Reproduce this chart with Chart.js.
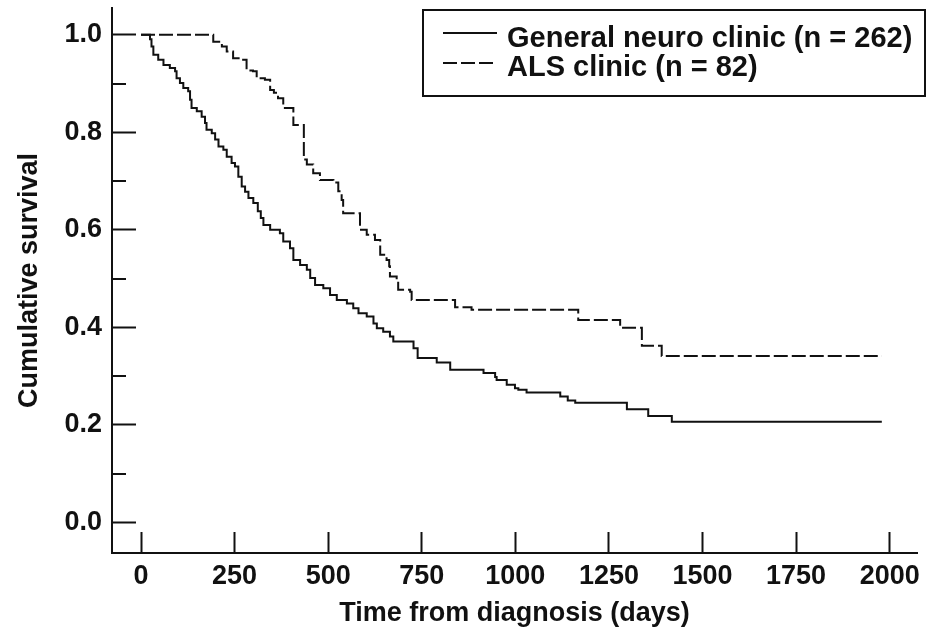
<!DOCTYPE html>
<html><head><meta charset="utf-8">
<script src="https://cdn.jsdelivr.net/npm/chart.js@4.4.1/dist/chart.umd.min.js"></script>
<style>html,body{margin:0;padding:0;background:#fff;}#wrap{width:932px;height:637px;position:relative;}</style>
</head><body><div id="wrap"><canvas id="c"></canvas></div>
<script>
const seriesLabels = ['General neuro clinic (n = 262)', 'ALS clinic (n = 82)'];
const generalDays = [0,24,28,33,46,60,77,91,95,104,113,126,131,135,149,162,171,175,189,198,207,220,229,242,251,260,269,278,287,300,312,320,327,345,371,380,398,407,425,443,452,465,487,505,523,550,567,581,603,621,630,647,665,674,728,739,790,826,915,946,950,977,999,1008,1030,1120,1140,1160,1298,1355,1418,1979];
const generalSurvival = [1.0,0.991,0.976,0.959,0.949,0.938,0.932,0.925,0.911,0.901,0.891,0.884,0.867,0.850,0.843,0.832,0.819,0.805,0.798,0.785,0.771,0.764,0.750,0.737,0.730,0.709,0.689,0.678,0.665,0.655,0.638,0.624,0.610,0.600,0.593,0.576,0.562,0.538,0.528,0.518,0.501,0.487,0.480,0.466,0.456,0.449,0.439,0.429,0.422,0.408,0.398,0.391,0.381,0.371,0.357,0.337,0.328,0.313,0.306,0.298,0.292,0.282,0.275,0.272,0.266,0.258,0.250,0.245,0.232,0.218,0.206,0.206];
const alsDays = [0,193,216,229,246,270,282,299,309,331,345,355,366,380,407,435,443,460,478,514,527,536,540,585,603,625,639,656,663,665,683,687,719,723,839,883,1168,1280,1338,1391,1979];
const alsSurvival = [1.0,0.986,0.976,0.966,0.952,0.949,0.927,0.925,0.911,0.908,0.887,0.881,0.870,0.850,0.815,0.744,0.734,0.716,0.702,0.697,0.679,0.661,0.634,0.600,0.590,0.579,0.549,0.538,0.525,0.504,0.494,0.477,0.473,0.456,0.441,0.436,0.415,0.399,0.362,0.341,0.341];
const xTickValues = [0,250,500,750,1000,1250,1500,1750,2000];
const yTickValues = [0,0.2,0.4,0.6,0.8,1.0];
const yMinorTickValues = [0.1,0.3,0.5,0.7,0.9];
const xAxisTitle = 'Time from diagnosis (days)';
const yAxisTitle = 'Cumulative survival';

const INK = '#111';
const FONT = "'Liberation Sans', Arial, sans-serif";

function toPoints(xs, ys){ return xs.map((x,i)=>({x:x, y:ys[i]})); }

const minorTicks = {
  id: 'minorTicks',
  afterDraw(chart){
    const {ctx, chartArea, scales} = chart;
    ctx.save();
    ctx.strokeStyle = INK; ctx.lineWidth = 2;
    yMinorTickValues.forEach(v=>{
      const py = Math.round(scales.y.getPixelForValue(v));
      ctx.beginPath(); ctx.moveTo(chartArea.left, py); ctx.lineTo(chartArea.left + 14, py); ctx.stroke();
    });
    ctx.restore();
  }
};

const boxLegend = {
  id: 'boxLegend',
  afterDraw(chart){
    const {ctx} = chart;
    const bx = 423, by = 10, bw = 502, bh = 86;
    ctx.save();
    ctx.fillStyle = '#fff';
    ctx.fillRect(bx, by, bw, bh);
    ctx.strokeStyle = INK; ctx.lineWidth = 2;
    ctx.strokeRect(bx, by, bw, bh);
    ctx.font = "bold 29px " + FONT;
    ctx.fillStyle = INK; ctx.textBaseline = 'alphabetic'; ctx.textAlign = 'left';
    const rows = [{line:33, text:47},{line:63, text:76}];
    chart.data.datasets.forEach((ds,i)=>{
      const r = rows[i];
      ctx.setLineDash(ds.borderDash || []);
      ctx.lineWidth = 2;
      ctx.beginPath(); ctx.moveTo(443, r.line); ctx.lineTo(497, r.line); ctx.stroke();
      ctx.setLineDash([]);
      ctx.fillText(ds.label, 507, r.text);
    });
    ctx.restore();
  }
};

new Chart(document.getElementById('c'), {
  type: 'line',
  data: {
    datasets: [
      {label: seriesLabels[0], data: toPoints(generalDays, generalSurvival), borderColor: INK, borderWidth: 2, stepped: 'before', pointRadius: 0, fill: false},
      {label: seriesLabels[1], data: toPoints(alsDays, alsSurvival), borderColor: INK, borderWidth: 2, borderDash: [14,4], stepped: 'before', pointRadius: 0, fill: false}
    ]
  },
  options: {
    responsive: true, maintainAspectRatio: false, animation: false,
    devicePixelRatio: 1,
    layout: {padding: {left: 0, right: 15, top: 8, bottom: 0}},
    plugins: {legend: {display: false}, tooltip: {enabled: false}},
    scales: {
      x: {
        type: 'linear', min: -77.5, max: 2073,
        afterBuildTicks: s => { s.ticks = xTickValues.map(v=>({value:v})); },
        afterFit: s => { s.height = 84; s.paddingLeft = 0; s.paddingRight = 0; },
        grid: {drawOnChartArea: false, tickLength: -21, tickColor: INK, tickWidth: 2},
        border: {color: INK, width: 2},
        ticks: {color: INK, padding: 28, maxRotation: 0, font: {family: FONT, size: 27, weight: 'bold'}, callback: v => String(v)},
        title: {display: true, text: xAxisTitle, color: INK, padding: {top: 0, bottom: 7}, font: {family: FONT, size: 27, weight: 'bold'}}
      },
      y: {
        type: 'linear', min: -0.063, max: 1.055,
        afterBuildTicks: s => { s.ticks = yTickValues.map(v=>({value:v})); },
        afterFit: s => { s.width = 112; s.paddingTop = 0; s.paddingBottom = 0; },
        grid: {drawOnChartArea: false, tickLength: -24, tickColor: INK, tickWidth: 2},
        border: {color: INK, width: 2},
        ticks: {color: INK, padding: 34, font: {family: FONT, size: 27, weight: 'bold'}, callback: v => Number(v).toFixed(1)},
        title: {display: true, text: yAxisTitle, color: INK, padding: {top: 13, bottom: 0}, font: {family: FONT, size: 27, weight: 'bold'}}
      }
    }
  },
  plugins: [minorTicks, boxLegend]
});
</script></body></html>
